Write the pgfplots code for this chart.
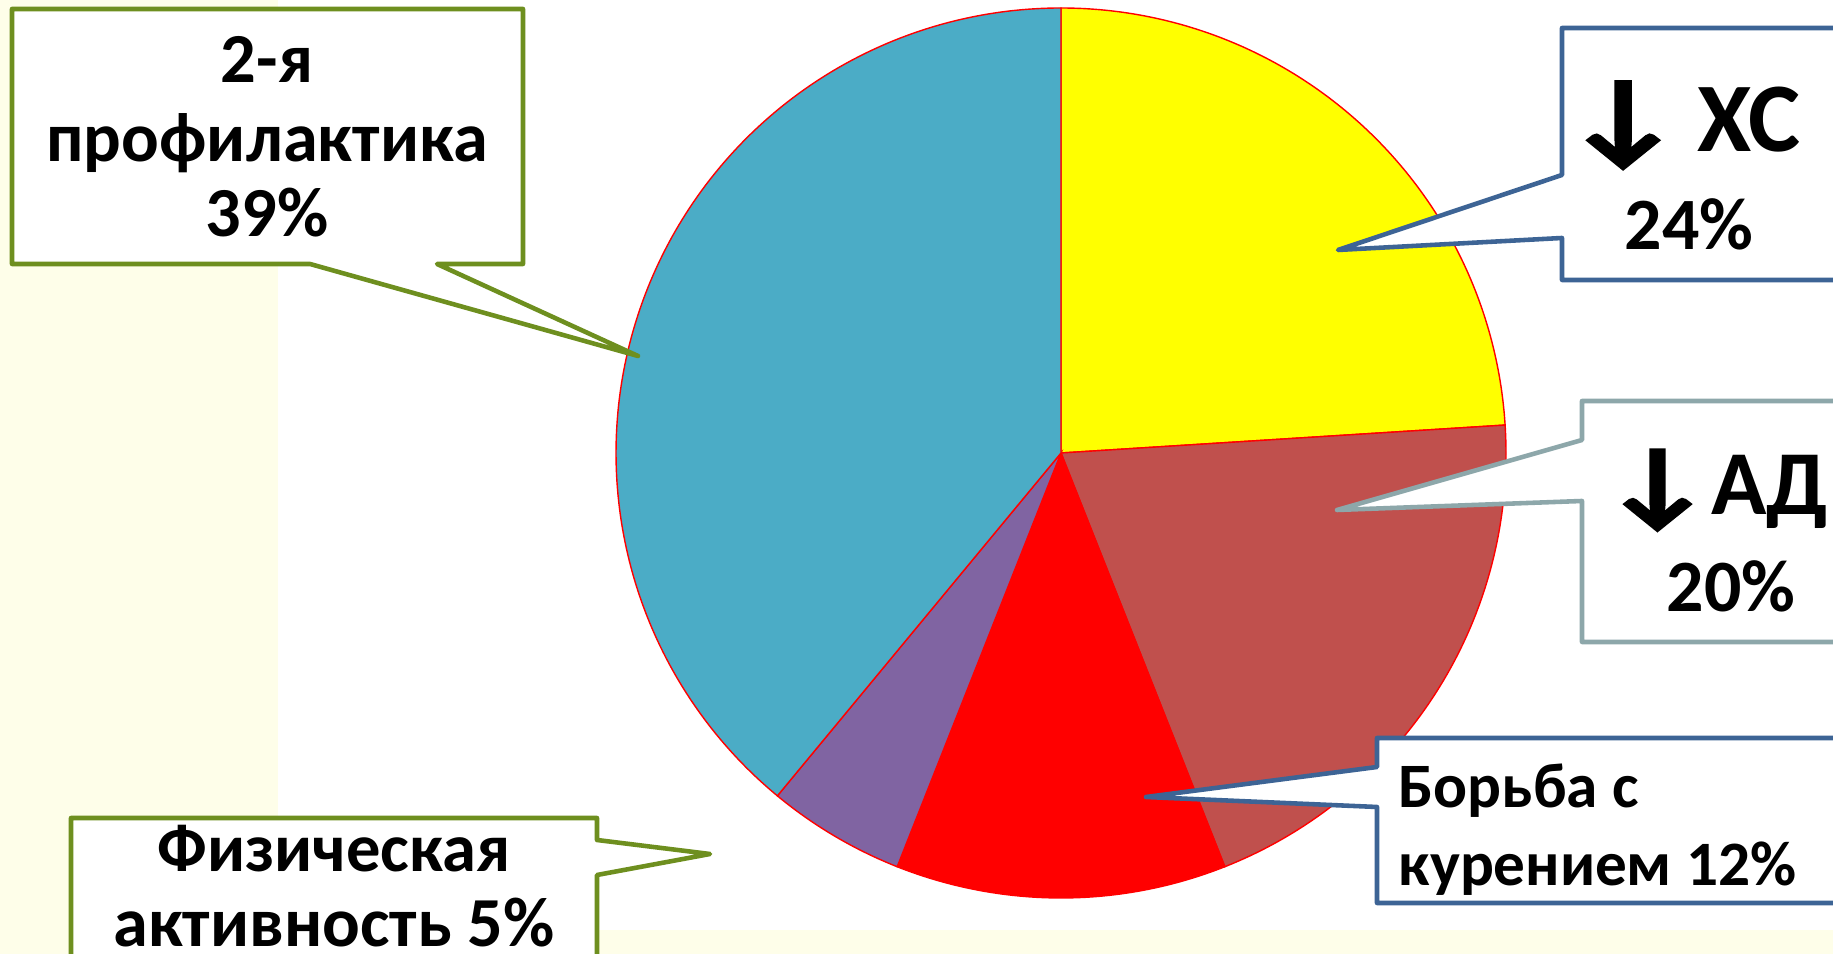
\documentclass[border=0pt]{standalone}
\usepackage{fontspec}
\setmainfont{Carlito}
\newfontfamily\arrowfont[FakeBold=2.5]{Carlito}
\usepackage{pgfplots}
\pgfplotsset{compat=1.18}
\definecolor{cream}{HTML}{FEFEE9}
\definecolor{cXC}{HTML}{FFFF00}
\definecolor{cAD}{HTML}{C0504D}
\definecolor{cSM}{HTML}{FF0000}
\definecolor{cPH}{HTML}{8064A2}
\definecolor{cPR}{HTML}{4BACC6}
\definecolor{cgreen}{HTML}{6E8F1F}
\definecolor{cblue}{HTML}{3D6495}
\definecolor{cgrey}{HTML}{8DA7AA}
% shares (%) clockwise from the top: XC 24, AD 20, smoking 12, physical 5, prevention 39
\begin{document}
\begin{tikzpicture}
\useasboundingbox (0,0) rectangle (18.33cm,9.54cm);
\clip (0,0) rectangle (18.33cm,9.54cm);
\begin{axis}[
  scale only axis, width=18.33cm, height=9.54cm,
  xmin=0, xmax=1833, ymin=0, ymax=954, y dir=reverse,
  hide axis, clip=true,
  at={(0,0)}, anchor=south west]
% background
\fill[cream] (axis cs:0,0) rectangle (axis cs:278,954);
\fill[cream] (axis cs:0,930) rectangle (axis cs:1833,954);
% pie slices (start angle 90, clockwise), 3.6 degrees per percent
\addplot[fill=cXC, draw=red, line width=0.4pt, domain={90-3.6*24}:{90}, samples=120, variable=\t]
  ({1061+445*cos(\t)},{453-445*sin(\t)}) -- (axis cs:1061,453) -- cycle;
\addplot[fill=cAD, draw=red, line width=0.4pt, domain={90-3.6*(24+20)}:{90-3.6*24}, samples=120, variable=\t]
  ({1061+445*cos(\t)},{453-445*sin(\t)}) -- (axis cs:1061,453) -- cycle;
\addplot[fill=cSM, draw=red, line width=0.4pt, domain={90-3.6*(44+12)}:{90-3.6*44}, samples=80, variable=\t]
  ({1061+445*cos(\t)},{453-445*sin(\t)}) -- (axis cs:1061,453) -- cycle;
\addplot[fill=cPH, draw=red, line width=0.4pt, domain={90-3.6*(56+5)}:{90-3.6*56}, samples=40, variable=\t]
  ({1061+445*cos(\t)},{453-445*sin(\t)}) -- (axis cs:1061,453) -- cycle;
\addplot[fill=cPR, draw=red, line width=0.4pt, domain={90-3.6*(61+39)}:{90-3.6*61}, samples=160, variable=\t]
  ({1061+445*cos(\t)},{453-445*sin(\t)}) -- (axis cs:1061,453) -- cycle;
% callouts
\draw[cgreen, fill=white, line width=1.3pt, line join=round]
  (axis cs:12,9) -- (axis cs:523,9) -- (axis cs:523,264) -- (axis cs:437,264) -- (axis cs:638,356)
  -- (axis cs:310,264) -- (axis cs:12,264) -- cycle;
\draw[cgreen, fill=white, line width=1.3pt, line join=round]
  (axis cs:71,818) -- (axis cs:597,818) -- (axis cs:597,840) -- (axis cs:710,854) -- (axis cs:597,875)
  -- (axis cs:597,980) -- (axis cs:71,980) -- cycle;
\draw[cblue, fill=white, line width=1.3pt, line join=round]
  (axis cs:1562,28) -- (axis cs:1860,28) -- (axis cs:1860,280) -- (axis cs:1562,280) -- (axis cs:1562,238)
  -- (axis cs:1338,250) -- (axis cs:1562,175) -- cycle;
\draw[cgrey, fill=white, line width=1.3pt, line join=round]
  (axis cs:1582,401) -- (axis cs:1860,401) -- (axis cs:1860,642) -- (axis cs:1582,642) -- (axis cs:1582,501)
  -- (axis cs:1337,510) -- (axis cs:1582,440) -- cycle;
\draw[cblue, fill=white, line width=1.3pt, line join=round]
  (axis cs:1377,738) -- (axis cs:1860,738) -- (axis cs:1860,903) -- (axis cs:1377,903) -- (axis cs:1377,807)
  -- (axis cs:1146,797) -- (axis cs:1377,767) -- cycle;
% texts
\node[anchor=base, font=\bfseries\fontsize{20}{24}\selectfont] at (axis cs:267,83) {2-я};
\node[anchor=base, font=\bfseries\fontsize{20}{24}\selectfont] at (axis cs:267,162) {профилактика};
\node[anchor=base, font=\bfseries\fontsize{20}{24}\selectfont] at (axis cs:267,237) {39\%};
\node[anchor=base, font=\bfseries\fontsize{19.5}{24}\selectfont] at (axis cs:334,872) {Физическая};
\node[anchor=base, font=\bfseries\fontsize{20}{24}\selectfont] at (axis cs:334,947) {активность 5\%};
\node[anchor=base, font=\bfseries\fontsize{28}{32}\selectfont] at (axis cs:1683,152)
  {\scalebox{1.3}[1.05]{\arrowfont ↓}\,ХС};
\node[anchor=base, font=\bfseries\fontsize{21}{24}\selectfont] at (axis cs:1689,250) {24\%};
\node[anchor=base, font=\bfseries\fontsize{26}{30}\selectfont] at (axis cs:1716,515)
  {\scalebox{1.3}[1.05]{\arrowfont ↓}АД};
\node[anchor=base, font=\bfseries\fontsize{21}{24}\selectfont] at (axis cs:1731,612) {20\%};
\node[anchor=base west, inner sep=0pt, font=\bfseries\fontsize{18}{22}\selectfont] at (axis cs:1398,808) {Борьба с};
\node[anchor=base west, inner sep=0pt, font=\bfseries\fontsize{18}{22}\selectfont] at (axis cs:1398,886) {курением 12\%};
\end{axis}
\end{tikzpicture}
\end{document}
